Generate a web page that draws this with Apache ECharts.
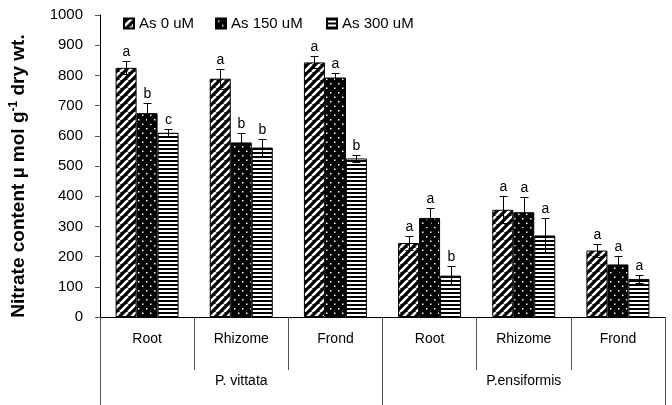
<!DOCTYPE html>
<html>
<head>
<meta charset="utf-8">
<script src="https://cdn.jsdelivr.net/npm/echarts@6/dist/echarts.min.js"></script>
<style>
  html, body { margin: 0; padding: 0; background: #fff; }
  #chart { width: 672px; height: 405px; }
</style>
</head>
<body>
<div id="chart"></div>
<script>
// Tissues (inner axis) and species (outer axis)
const tissues = ['Root', 'Rhizome', 'Frond', 'Root', 'Rhizome', 'Frond'];
const species = ['P. vittata', 'P.ensiformis'];
const seriesNames = ['As 0 uM', 'As 150 uM', 'As 300 uM'];

// Nitrate content means
const as0 = [825, 789, 843, 245, 355, 220];
const as150 = [675, 578, 793, 328, 347, 174];
const as300 = [610, 561, 525, 137, 270, 126];

// Standard errors
const err0 = [22, 33, 20, 22, 45, 22];
const err150 = [32, 32, 15, 32, 52, 27];
const err300 = [14, 28, 12, 32, 58, 13];

// Significance letters
const sig0 = ['a', 'a', 'a', 'a', 'a', 'a'];
const sig150 = ['b', 'b', 'a', 'a', 'a', 'a'];
const sig300 = ['c', 'b', 'b', 'b', 'a', 'a'];

const yTicks = { min: 0, max: 1000, interval: 100 };

// Fill patterns built on small canvases
function makeTile(w, h, draw) {
  const c = document.createElement('canvas');
  c.width = w; c.height = h;
  const ctx = c.getContext('2d');
  ctx.fillStyle = '#000';
  ctx.fillRect(0, 0, w, h);
  draw(ctx, w, h);
  return c;
}
const hatch = makeTile(8, 8, (ctx, s) => {
  ctx.strokeStyle = '#fff';
  ctx.lineWidth = 2.6;
  ctx.beginPath();
  for (const k of [-s, 0, s]) { ctx.moveTo(k, s); ctx.lineTo(k + s, 0); }
  ctx.stroke();
});
const dots = makeTile(8, 9, (ctx) => {
  ctx.fillStyle = '#fff';
  ctx.fillRect(2, 2, 1.5, 1.5);
  ctx.fillRect(6, 6.5, 1.5, 1.5);
});
const stripes = makeTile(4, 4, (ctx) => {
  ctx.fillStyle = '#fff';
  ctx.fillRect(0, 2, 4, 2);
});
const fills = [hatch, dots, stripes];

const values = [as0, as150, as300];
const errors = [err0, err150, err300];
const letters = [sig0, sig150, sig300];
const BAR_W = 21;

const font = '"Liberation Sans", Arial, sans-serif';

const barSeries = values.map((vals, s) => ({
  name: seriesNames[s],
  type: 'bar',
  xAxisIndex: 0,
  barWidth: BAR_W,
  barGap: '0%',
  data: vals,
  itemStyle: {
    color: { image: fills[s], repeat: 'repeat' },
    borderColor: '#000',
    borderWidth: 1
  },
  emphasis: { disabled: true },
  z: 2
}));

// Error bars with caps and significance letters above them
const errSeries = values.map((vals, s) => ({
  type: 'custom',
  xAxisIndex: 0,
  z: 5,
  silent: true,
  data: vals.map((v, i) => [i, v, errors[s][i]]),
  renderItem: function (params, api) {
    const i = api.value(0), v = api.value(1), e = api.value(2);
    const off = (s - 1) * BAR_W;
    const hi = api.coord([i, v + e]);
    const lo = api.coord([i, v - e]);
    const x = Math.round(hi[0] + off) + 0.5;
    const yh = Math.round(hi[1]) + 0.5;
    const yl = Math.round(lo[1]) + 0.5;
    const ls = { stroke: '#000', lineWidth: 1 };
    return {
      type: 'group',
      children: [
        { type: 'line', shape: { x1: x, y1: yh, x2: x, y2: yl }, style: ls },
        { type: 'line', shape: { x1: x - 4, y1: yh, x2: x + 4, y2: yh }, style: ls },
        { type: 'line', shape: { x1: x - 4, y1: yl, x2: x + 4, y2: yl }, style: ls },
        {
          type: 'text',
          style: {
            text: letters[s][params.dataIndex],
            x: x, y: yh - 2,
            align: 'center', verticalAlign: 'bottom',
            font: '14px ' + font, fill: '#000'
          }
        }
      ]
    };
  }
}));

// One legend entry per block so each can sit at its own spot
const legendLefts = [118, 210, 321];
const legends = seriesNames.map((n, k) => ({
  data: [n],
  left: legendLefts[k], top: 11,
  itemWidth: 10, itemHeight: 10,
  icon: 'rect',
  textStyle: { fontSize: 15, color: '#000', fontFamily: font },
  selectedMode: false
}));

const chart = echarts.init(document.getElementById('chart'), null, { renderer: 'canvas' });
chart.setOption({
  animation: false,
  backgroundColor: '#fff',
  textStyle: { fontFamily: font, color: '#000' },
  legend: legends,
  grid: { left: 100, right: 7, top: 15, bottom: 88, containLabel: false },
  xAxis: [
    {
      type: 'category',
      data: tissues,
      position: 'bottom',
      axisLine: { lineStyle: { color: '#000', width: 1 } },
      axisTick: { show: true, length: 53, interval: 0, lineStyle: { color: '#555' } },
      axisLabel: { fontSize: 14, color: '#000', margin: 15, interval: 0 },
      splitLine: { show: false }
    },
    {
      type: 'category',
      data: species,
      position: 'bottom',
      axisLine: { show: false },
      axisTick: { show: true, length: 89, interval: 0, lineStyle: { color: '#555' } },
      axisLabel: { fontSize: 14, color: '#000', margin: 57, interval: 0 },
      splitLine: { show: false }
    }
  ],
  yAxis: {
    type: 'value',
    min: yTicks.min, max: yTicks.max, interval: yTicks.interval,
    name: '{t|Nitrate content µ mol g}{s|-1}{t| dry wt.}',
    nameLocation: 'middle',
    nameGap: 70,
    nameTextStyle: {
      padding: [0, 20, 0, 0],
      rich: {
        t: { fontSize: 19, fontWeight: 'bold', fontFamily: font, color: '#000' },
        s: { fontSize: 12, fontWeight: 'bold', fontFamily: font, color: '#000', padding: [0, 0, 10, 0] }
      }
    },
    axisLine: { show: true, lineStyle: { color: '#000' } },
    axisTick: { show: true, length: 5, lineStyle: { color: '#555' } },
    axisLabel: { fontSize: 15, color: '#000', margin: 17, formatter: (v) => String(v) },
    splitLine: { show: false }
  },
  series: [...barSeries, ...errSeries]
});
</script>
</body>
</html>
